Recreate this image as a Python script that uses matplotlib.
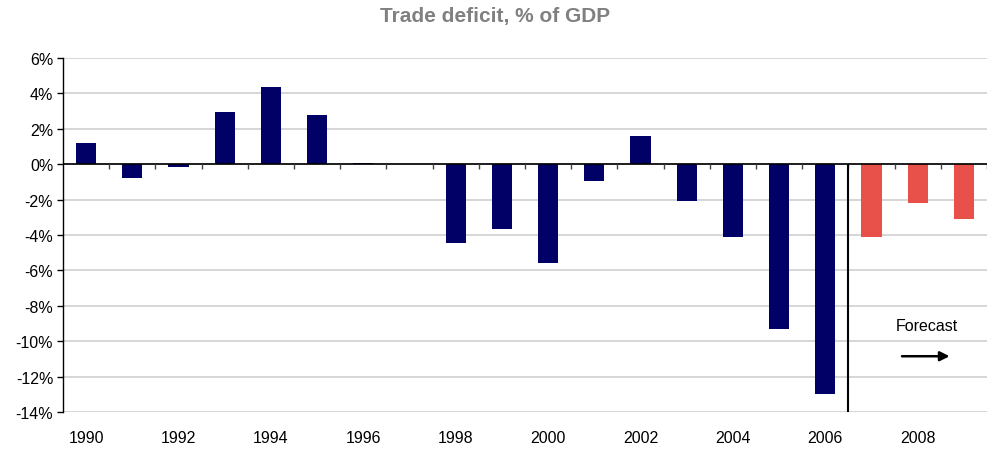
import numpy as np
import matplotlib.pyplot as plt

plt.rcParams['font.family'] = ['Liberation Sans', 'DejaVu Sans']

years = list(range(1990, 2010))
actual_years = list(range(1990, 2007))
actual = [1.2, -0.8, -0.15, 2.95, 4.35, 2.8, 0.07, 0.0, -4.45, -3.65,
          -5.6, -0.95, 1.6, -2.1, -4.1, -9.3, -13.0]
forecast_years = [2007, 2008, 2009]
forecast = [-4.1, -2.2, -3.1]
yticks = list(range(-14, 7, 2))

fig = plt.figure(figsize=(9.9, 4.52), dpi=100)
ax = fig.add_axes([0.0636, 0.0863, 0.9334, 0.7832])

x_act = np.array(actual_years) - years[0]
x_fc = np.array(forecast_years) - years[0]
ax.bar(x_act, actual, width=0.44, color='#000066', zorder=3)
ax.bar(x_fc, forecast, width=0.44, color='#E8504A', zorder=3)

ax.set_xlim(-0.5, len(years) - 0.5)
ax.set_ylim(yticks[0], yticks[-1])

ax.set_yticks(yticks)
ax.set_yticklabels([f'{v}%' for v in yticks], fontsize=11.5)
ax.yaxis.grid(True, color='#d0d0d0', lw=1.2, zorder=0)
ax.tick_params(axis='y', length=4, width=1, direction='out', pad=3)

xt = np.arange(0, len(years), 2)
ax.set_xticks(xt)
ax.set_xticklabels([str(years[i]) for i in xt], fontsize=11.5)
ax.tick_params(axis='x', length=0, pad=13)

for s in ['top', 'right', 'bottom']:
    ax.spines[s].set_visible(False)
ax.spines['left'].set_color('black')
ax.spines['left'].set_linewidth(1)

# zero line with category separators
ax.axhline(0, color='black', lw=1.2, zorder=4)
sep = np.arange(0.5, len(years), 1)
ax.vlines(sep, -0.28, 0, color='#444444', lw=1, zorder=4)

# split between actual and forecast
split = x_act[-1] + 0.5
ax.vlines(split, yticks[0], 0, color='black', lw=1.5, zorder=4)

ax.text(18.2, -9.1, 'Forecast', fontsize=11.5, ha='center', va='center')
ax.annotate('', xy=(18.75, -10.85), xytext=(17.6, -10.85),
            arrowprops=dict(arrowstyle='-|>', color='black', lw=1.8,
                            mutation_scale=14))

fig.suptitle('Trade deficit, % of GDP', x=0.5, y=0.985, fontsize=15,
             fontweight='bold', color='#808080')

fig.savefig('out.png', dpi=100)
